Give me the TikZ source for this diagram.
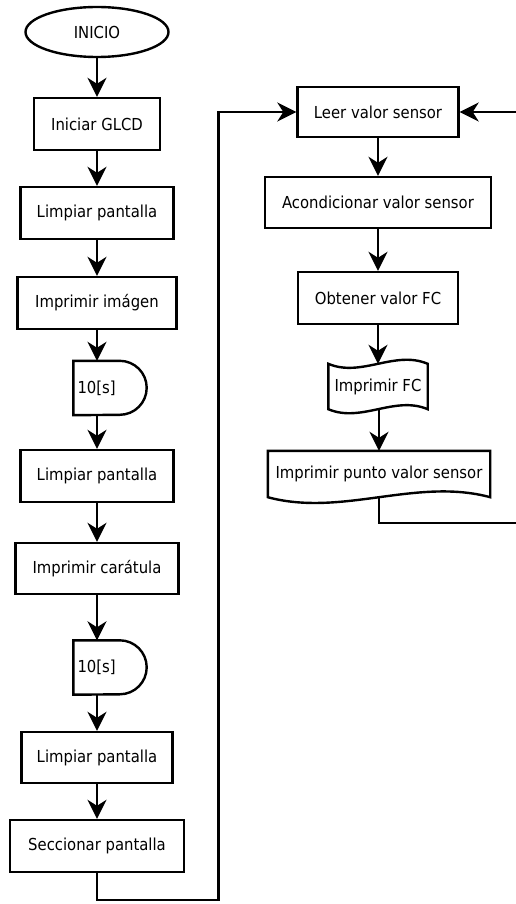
\documentclass[tikz,border=0pt]{standalone}
\usepackage{fontspec}
\setmainfont{DejaVu Sans Condensed}
\usetikzlibrary{shapes.geometric,arrows.meta}

\begin{document}
\begin{tikzpicture}[x=1pt, y=-1pt,
    font=\fontsize{16.5}{19}\selectfont,
    line/.style={line width=2.4pt, line join=miter},
    proc/.style={line, draw, minimum height=52pt, inner sep=2pt},
    plain/.style={minimum height=52pt, inner sep=2pt},
    delaybox/.style={text width=65pt, align=left, inner xsep=4pt, minimum height=54pt},
    flow/.style={line, -{Stealth[length=19pt, width=19pt, inset=6pt]}}]
  \useasboundingbox (0,0) rectangle (515,904);

  % Left column: start-up sequence
  \node[line, draw, ellipse, minimum width=143pt, minimum height=50pt] (inicio) at (97,32) {INICIO};
  \node[proc, minimum width=126pt] (glcd) at (97,124) {Iniciar GLCD};
  \node[proc, minimum width=153pt] (limp1) at (97,213) {Limpiar pantalla};
  \node[proc, minimum width=159pt] (img) at (97,303) {Imprimir imágen};
  \node[delaybox] (d1) at (110,388) {10[s]};
  \node[proc, minimum width=153pt] (limp2) at (97,476) {Limpiar pantalla};
  \node[proc, minimum width=163pt, minimum height=51pt] (car) at (97,568.5) {Imprimir carátula};
  \node[delaybox] (d2) at (110,667.5) {10[s]};
  \node[proc, minimum width=151pt, minimum height=51pt] (limp3) at (97,757.5) {Limpiar pantalla};
  \node[proc, minimum width=174pt] (secc) at (97,846) {Seccionar pantalla};

  % delay outlines: flat left part, round right end
  \foreach \d in {d1,d2}
    \draw[line] (\d.north west) -- ([xshift=-27pt]\d.north east)
      arc[start angle=90, end angle=-90, radius=27pt] -- (\d.south west) -- cycle;

  % Right column: main loop
  \node[proc, minimum width=161pt, minimum height=50pt] (leer) at (378,112) {Leer valor sensor};
  \node[proc, minimum width=226pt, minimum height=51pt] (acond) at (378,202.5) {Acondicionar valor sensor};
  \node[proc, minimum width=160pt] (obt) at (378,298) {Obtener valor FC};
  \node[plain, minimum width=99pt, minimum height=45pt] (fc) at (378,386.5) {Imprimir FC};
  \node[plain, minimum width=222pt, minimum height=46pt] (punto) at (379,474) {Imprimir punto valor sensor};

  % tape outline for the display output
  \draw[line] (fc.north west) .. controls +(33,14) and +(-33,-14) .. (fc.north east)
    -- (fc.south east) .. controls +(-33,-14) and +(33,14) .. (fc.south west) -- cycle;
  % document outline
  \draw[line] (punto.south west) -- (punto.north west) -- (punto.north east) -- (punto.south east)
    .. controls +(-74,-20) and +(74,20) .. (punto.south west) -- cycle;

  % arrows down the left column
  \draw[flow] (inicio) -- (glcd);
  \draw[flow] (glcd) -- (limp1);
  \draw[flow] (limp1) -- (img);
  \draw[flow] (img.south) -- (img.south |- d1.north);
  \draw[flow] (limp2 |- d1.south) -- (limp2.north);
  \draw[flow] (limp2) -- (car);
  \draw[flow] (car.south) -- (car.south |- d2.north);
  \draw[flow] (limp3 |- d2.south) -- (limp3.north);
  \draw[flow] (limp3) -- (secc);

  % arrows down the right column
  \draw[flow] (leer) -- (acond);
  \draw[flow] (acond) -- (obt);
  \draw[flow] (obt) -- (fc);
  \draw[flow] (fc.south) -- (fc.south -| punto.north) -- (punto.north);

  % into the loop and back round
  \draw[flow] (secc.south) -- ++(0,27) -| ([xshift=-78pt]leer.west) -- (leer.west);
  \draw[flow] (punto.south) -- ++(0,26) -| ([xshift=60pt]leer.east) -- (leer.east);
\end{tikzpicture}
\end{document}
